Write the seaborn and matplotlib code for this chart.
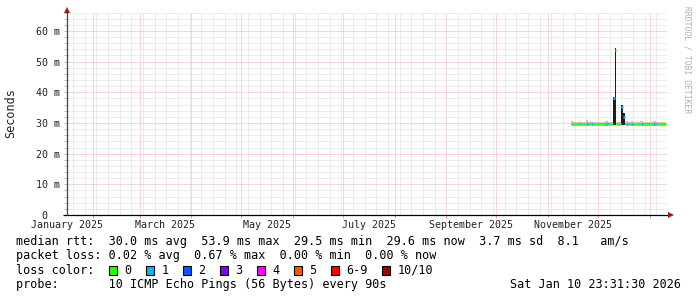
import numpy as np
import pandas as pd
import matplotlib
matplotlib.use("Agg")
import matplotlib.pyplot as plt
import matplotlib.dates as mdates
from matplotlib.ticker import MultipleLocator, NullFormatter
from matplotlib.patches import Rectangle
import seaborn as sns

# ---------------- data ----------------
first_day = "2025-11-15"          # first day with samples (daily consolidation)
median_ms = [
    29.7, 29.6, 29.6, 29.5, 29.6, 29.7, 29.6, 29.5, 29.6, 29.8, 29.6, 29.7, 29.5, 29.6, 29.6, 29.5,
    29.6, 29.5, 29.6, 29.6, 29.7, 29.8, 29.6, 29.5, 29.6, 38.0, 53.9, 29.6, 29.5, 29.6, 35.3, 32.0,
    29.6, 29.7, 29.5, 29.6, 29.6, 29.5, 29.6, 29.6, 29.5, 29.7, 29.6, 29.5, 29.6, 29.6, 29.5,
    29.6, 29.5, 29.7, 29.6, 29.5, 29.6, 29.5, 29.6, 29.6, 29.6,
]
loss_pings = [
    0, 0, 0, 0, 0, 1, 0, 0, 0, 1, 0, 0, 1, 0, 0, 0,
    0, 0, 0, 0, 1, 1, 0, 0, 0, 1, 0, 0, 0, 0, 1, 1,
    0, 1, 0, 0, 1, 0, 0, 0, 0, 0, 1, 0, 0, 0, 0,
    0, 0, 1, 1, 0, 0, 0, 0, 0, 0,
]
smoke_lo_ms = [
    29.4, 29.3, 29.3, 29.2, 29.3, 29.4, 29.3, 29.2, 29.3, 29.5, 29.3, 29.4, 29.2, 29.3, 29.3, 29.2,
    29.3, 29.2, 29.3, 29.3, 29.4, 29.5, 29.3, 29.2, 29.3, 29.3, 29.3, 29.3, 29.2, 29.3, 29.3, 29.3,
    29.3, 29.4, 29.2, 29.3, 29.3, 29.2, 29.3, 29.3, 29.2, 29.4, 29.3, 29.2, 29.3, 29.3, 29.2,
    29.3, 29.2, 29.4, 29.3, 29.2, 29.3, 29.2, 29.3, 29.3, 29.3,
]
smoke_hi_ms = [
    30.5, 30.4, 30.4, 30.3, 30.4, 30.6, 30.4, 30.3, 30.4, 30.9, 30.4, 30.5, 30.3, 30.4, 30.4, 30.3,
    30.4, 30.3, 30.4, 30.4, 30.5, 30.7, 30.4, 30.3, 30.4, 38.6, 54.4, 30.4, 30.3, 30.4, 35.9, 33.2,
    30.4, 30.5, 30.3, 30.4, 30.5, 30.3, 30.4, 30.4, 30.3, 30.5, 30.6, 30.3, 30.4, 30.4, 30.3,
    30.4, 30.3, 30.5, 30.6, 30.3, 30.4, 30.3, 30.4, 30.4, 30.4,
]

x_start = "2025-01-16 10:00"
x_end = "2026-01-11 10:00"
y_max_ms = 66.0

loss_keys = [0, 1, 2, 3, 4, 5, 9, 10]
loss_labels = ["0", "1", "2", "3", "4", "5", "6-9", "10/10"]
loss_colors = ["#26ff00", "#00b8ff", "#0059ff", "#7e00ff", "#ff00ff", "#ff5500", "#ff0000", "#a10000"]

month_label_starts = ["2025-01-01", "2025-03-01", "2025-05-01", "2025-07-01", "2025-09-01", "2025-11-01"]
month_labels = ["January 2025", "March 2025", "May 2025", "July 2025", "September 2025", "November 2025"]

ytick_values = [0, 10, 20, 30, 40, 50, 60]
ytick_labels = [" 0", "10 m", "20 m", "30 m", "40 m", "50 m", "60 m"]

rtt_line = "median rtt:  30.0 ms avg  53.9 ms max  29.5 ms min  29.6 ms now  3.7 ms sd  8.1   am/s"
loss_line = "packet loss: 0.02 % avg  0.67 % max  0.00 % min  0.00 % now"
probe_line = "probe:       10 ICMP Echo Pings (56 Bytes) every 90s"
stamp_text = "Sat Jan 10 23:31:30 2026"
watermark = "RRDTOOL / TOBI OETIKER"

# ---------------- style ----------------
sns.set_theme(style="white")
plt.rcParams["font.family"] = ["DejaVu Sans Mono", "DejaVu Sans"]
mono = "DejaVu Sans Mono"

W, H = 697, 297
fig = plt.figure(figsize=(W / 100, H / 100), dpi=100, facecolor="white")
L, R, T, B = 67, 667, 12.5, 215
ax = fig.add_axes([L / W, 1 - B / H, (R - L) / W, (B - T) / H])
ax.set_facecolor("white")

days = mdates.date2num(pd.date_range(first_day, periods=len(median_ms), freq="D"))
palette = dict(zip(loss_keys, loss_colors))

# smoke
spread = np.array(smoke_hi_ms) - np.array(smoke_lo_ms)
smoke_cols = ["#1e1e1e" if s > 2.0 else "#c4c4c4" for s in spread]
ax.bar(days, spread, bottom=smoke_lo_ms, width=1.0, align="edge",
       color=smoke_cols, linewidth=0, zorder=2)

# median segments coloured by loss
seg = pd.DataFrame({
    "t": np.concatenate([days, days + 1.0]),
    "v": np.concatenate([median_ms, median_ms]),
    "loss": np.concatenate([loss_pings, loss_pings]),
    "unit": np.concatenate([np.arange(len(days)), np.arange(len(days))]),
}).sort_values(["unit", "t"])
sns.lineplot(data=seg, x="t", y="v", hue="loss", units="unit", estimator=None,
             palette=palette, linewidth=2.0, legend=False, ax=ax, zorder=3,
             solid_capstyle="butt")

ax.set_xlim(mdates.date2num(pd.Timestamp(x_start)), mdates.date2num(pd.Timestamp(x_end)))
ax.set_ylim(0, y_max_ms)
ax.set_xlabel("")
ax.set_ylabel("")

# grid
ax.xaxis.set_major_locator(mdates.MonthLocator())
ax.xaxis.set_minor_locator(mdates.WeekdayLocator(byweekday=mdates.MO))
ax.xaxis.set_major_formatter(NullFormatter())
ax.xaxis.set_minor_formatter(NullFormatter())
ax.yaxis.set_minor_locator(MultipleLocator(2))
ax.set_yticks(ytick_values)
ax.set_yticklabels(ytick_labels, ha="left", fontsize=7.2, family=mono, color="#222222")
ax.set_axisbelow(True)
ax.grid(which="minor", color="#dadada", linestyle=(0, (1, 1)), linewidth=0.72, snap=True)
ax.grid(which="major", color="#eeb0b0", linestyle=(0, (1, 1)), linewidth=0.72, snap=True)
ax.tick_params(axis="y", which="both", length=2.2, width=0.72, pad=20.1, left=True,
               color="#bbbbbb")
ax.tick_params(axis="x", which="major", length=2.2, width=0.72, bottom=True, color="#e6a3a3")
ax.tick_params(axis="x", which="minor", length=0)
for s in ax.spines.values():
    s.set_visible(False)

# month labels centred in their month
for start, lab in zip(month_label_starts, month_labels):
    s0 = pd.Timestamp(start)
    mid = mdates.date2num(s0 + (s0 + pd.offsets.MonthBegin(1) - s0) / 2)
    ax.text(mid, -10.5 / (B - T), lab, transform=ax.get_xaxis_transform(),
            ha="center", va="center", fontsize=7.2, family=mono, color="#222222")

# axes lines and arrows
pw, ph = R - L, B - T
ax.plot([-4 / pw, 1 + 2 / pw], [0, 0], transform=ax.transAxes, color="black",
        linewidth=0.9, clip_on=False, zorder=5, solid_capstyle="butt")
ax.plot([0, 0], [0, 1 + 1 / ph], transform=ax.transAxes, color="#444444",
        linewidth=0.9, clip_on=False, zorder=5, solid_capstyle="butt")
ax.plot([1 + 4 / pw], [0], marker=">", markersize=4, color="#9b1c1c",
        transform=ax.transAxes, clip_on=False, zorder=6, markeredgewidth=0)
ax.plot([0], [1 + 3 / ph], marker="^", markersize=4, color="#9b1c1c",
        transform=ax.transAxes, clip_on=False, zorder=6, markeredgewidth=0)

# y axis title and watermark
fig.text(11 / W, 1 - 113 / H, "Seconds", rotation=90, ha="center", va="center",
         fontsize=8.5, family=mono, color="#222222")
fig.text(687 / W, 1 - 60 / H, watermark, rotation=270, ha="center", va="center",
         fontsize=5.8, family=mono, color="#b0b0b0")

# legend block
fs = 8.5
cw = 7.1
fig.text(16 / W, 1 - 241 / H, rtt_line, ha="left", va="center", fontsize=fs, family=mono, color="black")
fig.text(16 / W, 1 - 255.5 / H, loss_line, ha="left", va="center", fontsize=fs, family=mono, color="black")
fig.text(16 / W, 1 - 270 / H, "loss color:", ha="left", va="center", fontsize=fs, family=mono, color="black")
xb = 109.0
for lab, col in zip(loss_labels, loss_colors):
    fig.patches.append(Rectangle((xb / W, 1 - 275 / H), 8 / W, 9.5 / H, transform=fig.transFigure,
                                 facecolor=col, edgecolor="black", linewidth=0.8, figure=fig))
    xt = xb + 15.5
    fig.text(xt / W, 1 - 270 / H, lab, ha="left", va="center", fontsize=fs, family=mono, color="black")
    xb = xt + len(lab) * cw + 14.4
fig.text(16 / W, 1 - 284.5 / H, probe_line, ha="left", va="center", fontsize=fs, family=mono, color="black")
fig.text(681 / W, 1 - 284.5 / H, stamp_text, ha="right", va="center", fontsize=fs, family=mono, color="black")

fig.savefig("out.png", dpi=100, facecolor="white")
